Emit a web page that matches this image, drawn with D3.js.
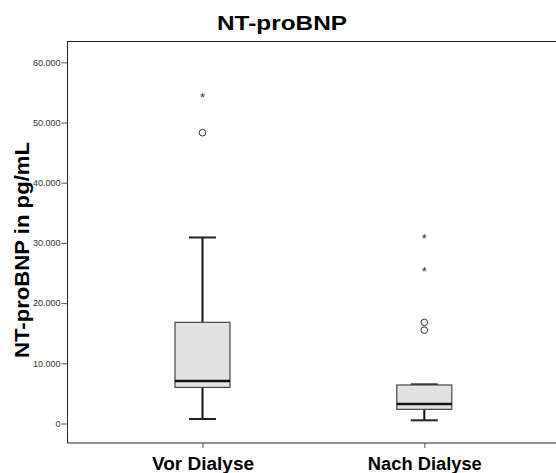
<!DOCTYPE html>
<html>
<head>
<meta charset="utf-8">
<script src="https://cdn.jsdelivr.net/npm/d3@7"></script>
<style>
  body { margin: 0; background: #fff; }
  svg { display: block; font-family: Arial, "Liberation Sans", sans-serif; }
</style>
</head>
<body>
<div id="chart"></div>
<script>
// values
const groups = ["Vor Dialyse", "Nach Dialyse"];
const whiskerLow = [750, 530];
const q1 = [6000, 2350];
const median = [7050, 3250];
const q3 = [16800, 6400];
const whiskerHigh = [30900, 6500];
const outliers = [[48300], [16800, 15500]];
const extremes = [[54300], [30850, 25400]];
const yTicks = [0, 10000, 20000, 30000, 40000, 50000, 60000];

const width = 556, height = 473;
const frame = { left: 67.5, top: 41.5, right: 560, bottom: 443 };

const svg = d3.select("#chart").append("svg")
    .attr("width", width)
    .attr("height", height);

const y = d3.scaleLinear()
    .domain([0, 60000])
    .range([423.5, 62.3]);

const x = d3.scalePoint()
    .domain(groups)
    .range([202.5, 424.3]);

const fmt = v => d3.format(",")(v).replace(/,/g, ".");

// frame
svg.append("rect")
    .attr("x", frame.left)
    .attr("y", frame.top)
    .attr("width", frame.right - frame.left)
    .attr("height", frame.bottom - frame.top)
    .attr("fill", "none")
    .attr("stroke", "#222")
    .attr("stroke-width", 1);

// y axis
const yAxis = svg.append("g")
    .attr("transform", `translate(${frame.left},0)`)
    .call(d3.axisLeft(y).tickValues(yTicks).tickFormat(fmt).tickSize(6).tickPadding(1));
yAxis.select(".domain").remove();
yAxis.selectAll("line").attr("stroke", "#555");
yAxis.selectAll("text").attr("font-size", 9).attr("fill", "#333")
    .attr("font-family", "Arial, 'Liberation Sans', sans-serif");

// x axis
const xAxis = svg.append("g")
    .attr("transform", `translate(0,${frame.bottom})`)
    .call(d3.axisBottom(x).tickSize(5).tickPadding(10));
xAxis.select(".domain").remove();
xAxis.selectAll("line").attr("stroke", "#555");
xAxis.selectAll("text")
    .attr("font-size", 17.5)
    .attr("font-weight", "bold")
    .attr("fill", "#000")
    .attr("font-family", "Arial, 'Liberation Sans', sans-serif")
    .attr("textLength", d => d === "Vor Dialyse" ? 102 : 114)
    .attr("lengthAdjust", "spacingAndGlyphs");

// title
svg.append("text")
    .attr("x", 282)
    .attr("y", 30)
    .attr("text-anchor", "middle")
    .attr("font-size", 20)
    .attr("font-weight", "bold")
    .attr("textLength", 130)
    .attr("lengthAdjust", "spacingAndGlyphs")
    .text("NT-proBNP");

// y label
svg.append("text")
    .attr("transform", "translate(29,250) rotate(-90)")
    .attr("text-anchor", "middle")
    .attr("font-size", 21)
    .attr("font-weight", "bold")
    .attr("textLength", 216)
    .attr("lengthAdjust", "spacingAndGlyphs")
    .text("NT-proBNP in pg/mL");

const boxW = 55, capW = 27;

const boxes = svg.append("g").selectAll("g")
    .data(groups)
    .join("g")
    .attr("transform", d => `translate(${x(d)},0)`);

// whiskers
boxes.append("line")
    .attr("y1", (d, i) => y(whiskerLow[i]))
    .attr("y2", (d, i) => y(q1[i]))
    .attr("stroke", "#111").attr("stroke-width", 2);
boxes.append("line")
    .attr("y1", (d, i) => y(q3[i]))
    .attr("y2", (d, i) => y(whiskerHigh[i]))
    .attr("stroke", "#111").attr("stroke-width", 2);
boxes.append("line")
    .attr("x1", -capW / 2).attr("x2", capW / 2)
    .attr("y1", (d, i) => y(whiskerLow[i]))
    .attr("y2", (d, i) => y(whiskerLow[i]))
    .attr("stroke", "#222").attr("stroke-width", 2);
boxes.append("line")
    .attr("x1", -capW / 2).attr("x2", capW / 2)
    .attr("y1", (d, i) => y(whiskerHigh[i]))
    .attr("y2", (d, i) => y(whiskerHigh[i]))
    .attr("stroke", "#222").attr("stroke-width", 2);

// box
boxes.append("rect")
    .attr("x", -boxW / 2)
    .attr("width", boxW)
    .attr("y", (d, i) => y(q3[i]))
    .attr("height", (d, i) => y(q1[i]) - y(q3[i]))
    .attr("fill", "#e2e2e2")
    .attr("stroke", "#444")
    .attr("stroke-width", 1.2);

// median
boxes.append("line")
    .attr("x1", -boxW / 2).attr("x2", boxW / 2)
    .attr("y1", (d, i) => y(median[i]))
    .attr("y2", (d, i) => y(median[i]))
    .attr("stroke", "#111").attr("stroke-width", 2.5);

// outliers (circles) and extremes (stars)
boxes.each(function (d, i) {
    d3.select(this).selectAll("circle")
        .data(outliers[i])
        .join("circle")
        .attr("cy", v => y(v))
        .attr("r", 3.3)
        .attr("fill", "#fff")
        .attr("stroke", "#333")
        .attr("stroke-width", 1);
    d3.select(this).selectAll("text.ext")
        .data(extremes[i])
        .join("text")
        .attr("class", "ext")
        .attr("y", v => y(v) + 5)
        .attr("text-anchor", "middle")
        .attr("font-size", 13)
        .attr("fill", "#333")
        .text("*");
});
</script>
</body>
</html>
